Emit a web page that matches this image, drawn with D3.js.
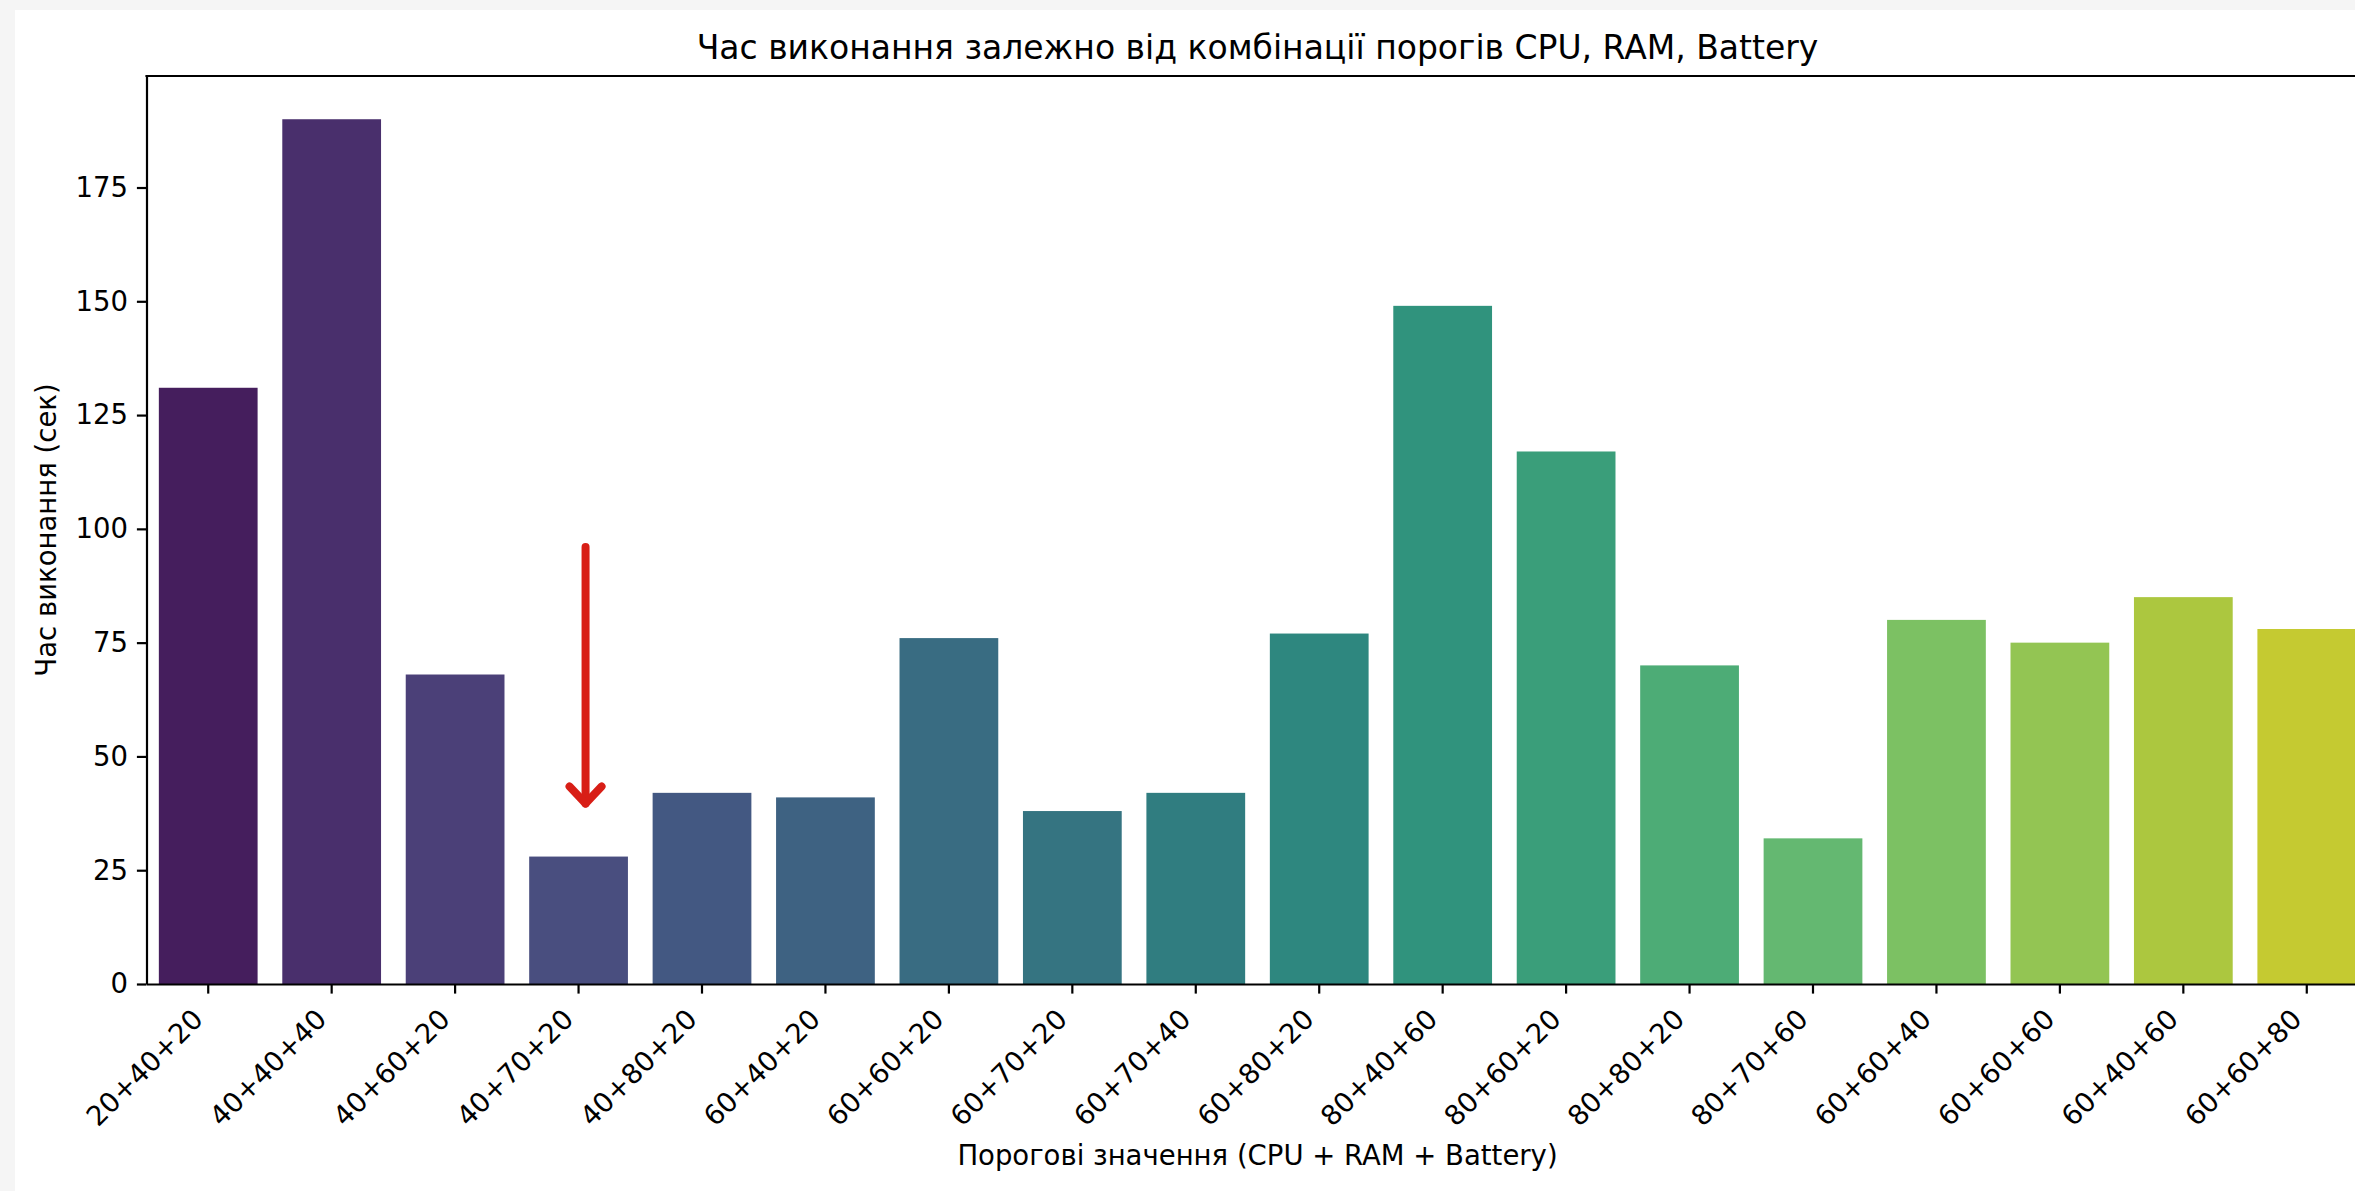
<!DOCTYPE html>
<html>
<head>
<meta charset="utf-8">
<script src="https://cdn.jsdelivr.net/npm/d3@7"></script>
<style>
  body { margin: 0; background: #f5f5f5; overflow: hidden; }
  svg { display: block; font-family: "DejaVu Sans", sans-serif; }
</style>
</head>
<body>
<svg id="chart" width="2355" height="1191"></svg>
<script>
// threshold combos (CPU + RAM + Battery) and measured run time, sec
const categories = [
  "20+40+20", "40+40+40", "40+60+20", "40+70+20", "40+80+20", "60+40+20",
  "60+60+20", "60+70+20", "60+70+40", "60+80+20", "80+40+60", "80+60+20",
  "80+80+20", "80+70+60", "60+60+40", "60+60+60", "60+40+60", "60+60+80"
];
const execTimes = [131, 190, 68, 28, 42, 41, 76, 38, 42, 77, 149, 117, 70, 32, 80, 75, 85, 78];
const yTicks = [0, 25, 50, 75, 100, 125, 150, 175];

// red arrow drawn over the chart, in data units
const arrowCategory = "40+70+20";
const arrowFrom = 96;
const arrowTo = 39;

const titleText = "Час виконання залежно від комбінації порогів CPU, RAM, Battery";
const xLabel = "Порогові значення (CPU + RAM + Battery)";
const yLabel = "Час виконання (сек)";

const svg = d3.select("#chart");
const margin = { left: 146.5, top: 76, bottom: 984, right: 2368.5 };

// white figure background, screenshot is cropped on the right
svg.append("rect")
  .attr("x", 15).attr("y", 10)
  .attr("width", 2400).attr("height", 1200)
  .attr("fill", "#ffffff");

const x = d3.scaleBand()
  .domain(categories)
  .range([margin.left, margin.right])
  .paddingInner(0.2)
  .paddingOuter(0.1);

const y = d3.scaleLinear()
  .domain([0, d3.max(execTimes) * 1.05])
  .range([margin.bottom, margin.top]);

// seaborn style: viridis palette, desaturated by 0.75
function barColor(i) {
  const c = d3.hsl(d3.interpolateViridis((i + 1) / (categories.length + 1)));
  c.s *= 0.75;
  return c.formatHex();
}

svg.append("g")
  .selectAll("rect.bar")
  .data(execTimes)
  .enter()
  .append("rect")
  .attr("class", "bar")
  .attr("x", (d, i) => x(categories[i]))
  .attr("y", (d) => y(d))
  .attr("width", x.bandwidth())
  .attr("height", (d) => y(0) - y(d))
  .attr("fill", (d, i) => barColor(i));

const tickLen = 9.6;

const yAxis = svg.append("g")
  .attr("transform", "translate(" + margin.left + ",0)")
  .call(d3.axisLeft(y).tickValues(yTicks).tickSize(tickLen).tickPadding(9).tickSizeOuter(0));

const xAxis = svg.append("g")
  .attr("transform", "translate(0," + margin.bottom + ")")
  .call(d3.axisBottom(x).tickSize(tickLen).tickSizeOuter(0));

[yAxis, xAxis].forEach((ax) => {
  ax.select(".domain").attr("stroke", "#000").attr("stroke-width", 2.2);
  ax.selectAll(".tick line").attr("stroke", "#000").attr("stroke-width", 2.2);
  ax.selectAll(".tick text")
    .attr("fill", "#000")
    .style("font-size", "27.5px")
    .style("font-family", "DejaVu Sans, sans-serif");
});

xAxis.selectAll(".tick text")
  .attr("x", 0).attr("y", 0).attr("dy", null)
  .attr("text-anchor", "end")
  .attr("transform", "translate(-3.5,37) rotate(-45)");

// top spine
svg.append("line")
  .attr("x1", margin.left - 1.1).attr("x2", margin.right)
  .attr("y1", margin.top).attr("y2", margin.top)
  .attr("stroke", "#000").attr("stroke-width", 2.2);

const midX = (margin.left + margin.right) / 2;

svg.append("text")
  .attr("x", midX).attr("y", 59)
  .attr("text-anchor", "middle")
  .style("font-size", "33px")
  .text(titleText);

svg.append("text")
  .attr("x", midX).attr("y", 1165)
  .attr("text-anchor", "middle")
  .style("font-size", "27.5px")
  .text(xLabel);

svg.append("text")
  .attr("transform", "translate(56," + (margin.top + margin.bottom) / 2 + ") rotate(-90)")
  .attr("text-anchor", "middle")
  .style("font-size", "27.5px")
  .text(yLabel);

// annotation arrow
const ax0 = x(arrowCategory) + x.bandwidth() / 2 + 7;
const arrow = svg.append("g")
  .attr("stroke", "#d81e16")
  .attr("stroke-width", 8)
  .attr("fill", "none")
  .attr("stroke-linecap", "round")
  .attr("stroke-linejoin", "round");
arrow.append("line")
  .attr("x1", ax0).attr("x2", ax0)
  .attr("y1", y(arrowFrom)).attr("y2", y(arrowTo) - 3);
arrow.append("path")
  .attr("d", d3.line()([
    [ax0 - 16, y(arrowTo) - 20],
    [ax0, y(arrowTo) - 3],
    [ax0 + 16, y(arrowTo) - 20]
  ]));
</script>
</body>
</html>
